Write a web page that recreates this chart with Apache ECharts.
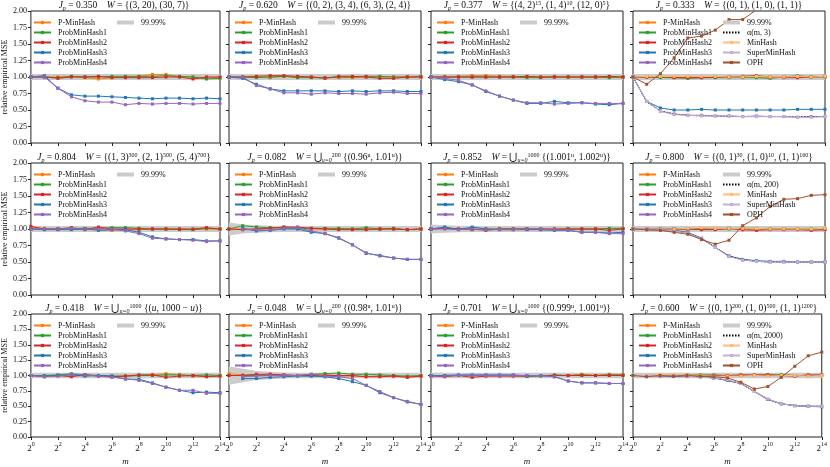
<!DOCTYPE html>
<html lang="en">
<head>
    <meta charset="UTF-8">
    <title>relative empirical MSE</title>
    <script src="https://cdn.jsdelivr.net/npm/echarts@6/dist/echarts.min.js"></script>
    <style>html, body { margin: 0; padding: 0; background: #fff; }</style>
</head>
<body>

<div id="wrap" style="width: 830px; height: 467px;"></div>

<script>
    // x positions are log2(m): m = 2^0 ... 2^14
    var logM = ['0', '1', '2', '3', '4', '5', '6', '7', '8', '9', '10', '11', '12', '13', '14'];

    var jp = ['0.350', '0.620', '0.377', '0.333', '0.804', '0.082', '0.852', '0.800', '0.418', '0.048', '0.701', '0.600'];
    var wSets = [
        '{(3, 20), (30, 7)}',
        '{(0, 2), (3, 4), (6, 3), (2, 4)}',
        '{(4, 2){sup|15}, (1, 4){sup|10}, (12, 0){sup|5}}',
        '{(0, 1), (1, 0), (1, 1)}',
        '{(1, 3){sup|300}, (2, 1){sup|500}, (5, 4){sup|700}}',
        '\u22C3{sub|u=0}{sup|200} {(0.96{sup|u}, 1.01{sup|u})}',
        '\u22C3{sub|u=0}{sup|1000} {(1.001{sup|u}, 1.002{sup|u})}',
        '{(0, 1){sup|30}, (1, 0){sup|10}, (1, 1){sup|160}}',
        '\u22C3{sub|u=0}{sup|1000} {({i|u}, 1000 \u2212 {i|u})}',
        '\u22C3{sub|u=0}{sup|200} {(0.98{sup|u}, 1.01{sup|u})}',
        '\u22C3{sub|u=0}{sup|1000} {(0.999{sup|u}, 1.001{sup|u})}',
        '{(0, 1){sup|200}, (1, 0){sup|500}, (1, 1){sup|1200}}'
    ];

    var pMinHash = [
        [1.00,1.00,1.00,1.01,0.99,0.97,0.99,1.00,1.01,1.04,1.04,1.00,1.00,0.99,0.99],
        [1.00,1.00,1.00,0.99,1.01,1.00,1.00,0.99,0.99,0.99,1.00,1.00,1.00,1.00,1.00],
        [1.00,1.00,1.01,1.02,1.02,1.01,1.01,1.00,1.00,1.01,1.00,1.00,1.00,0.99,1.00],
        [1.00,1.00,1.00,1.00,1.00,1.00,1.01,1.00,1.00,1.00,0.99,1.00,1.00,1.00,1.00],
        [1.03,1.00,1.00,1.01,1.00,0.99,0.98,0.99,0.99,1.00,1.00,1.00,0.99,1.00,1.00],
        [1.00,1.00,1.00,1.01,1.03,1.01,1.00,1.00,1.00,1.00,1.00,1.00,1.00,0.99,1.00],
        [1.00,1.01,1.00,0.99,1.00,1.00,1.00,1.00,1.00,1.00,1.00,1.00,1.00,1.00,1.01],
        [1.00,1.00,1.00,1.00,1.00,1.01,1.01,1.01,1.00,1.00,1.00,1.00,1.00,1.00,1.01],
        [1.00,1.00,1.00,1.01,1.01,1.00,0.99,0.99,1.00,1.01,1.03,1.01,0.99,0.99,0.99],
        [1.03,1.01,1.01,1.02,1.01,1.00,1.01,1.02,0.99,0.99,0.98,0.99,0.99,0.98,0.99],
        [1.00,1.00,1.00,1.00,1.00,1.00,1.00,1.00,1.00,1.00,1.00,1.02,1.00,1.02,1.01],
        [1.00,1.00,1.01,1.00,1.01,1.00,1.00,1.00,1.00,1.00,1.00,1.01,1.00,1.00,1.00]
    ];
    var probMinHash1 = [
        [1.00,1.00,0.99,1.01,1.00,1.00,1.01,1.01,1.01,1.01,1.02,1.01,1.00,0.97,0.98],
        [1.00,1.00,0.99,1.00,1.01,0.99,0.99,0.99,1.00,1.00,1.01,1.01,1.00,1.00,1.01],
        [1.00,1.00,1.00,1.00,1.00,1.00,1.00,0.99,0.99,1.00,1.00,1.00,1.00,0.99,1.00],
        [1.00,1.00,0.99,0.99,0.98,0.99,0.99,0.99,0.99,0.99,0.98,1.00,1.02,1.00,1.00],
        [1.00,1.00,1.00,1.01,1.01,1.01,1.02,1.02,1.01,1.00,1.00,0.99,0.99,1.01,1.00],
        [1.00,1.05,1.03,1.02,1.02,1.01,1.01,1.01,1.01,1.00,1.02,1.00,1.01,0.99,1.00],
        [1.00,1.02,1.00,0.99,1.00,1.00,1.00,1.00,0.99,0.99,1.00,1.00,1.00,1.01,1.01],
        [1.00,1.00,1.00,1.00,1.00,1.00,1.00,1.00,1.01,1.01,1.00,1.00,1.00,1.00,1.00],
        [1.00,1.00,1.01,1.03,1.01,1.00,0.99,0.99,1.00,1.00,1.01,1.01,1.00,1.01,1.00],
        [1.00,1.00,1.00,1.00,1.00,1.00,1.02,1.03,1.04,1.02,1.02,1.01,1.00,0.99,1.00],
        [1.00,1.00,1.00,1.00,1.00,1.00,1.00,0.99,0.99,1.01,1.00,1.01,1.00,1.01,1.01],
        [1.00,1.00,1.00,1.00,1.00,1.01,1.01,1.00,1.00,1.00,1.01,1.01,1.00,1.00,1.00]
    ];
    var probMinHash2 = [
        [1.00,1.00,0.98,1.00,1.00,1.01,0.99,0.99,0.99,0.99,1.00,1.00,0.97,1.00,1.00],
        [1.00,1.00,1.01,1.02,1.02,1.01,1.00,0.98,1.01,1.01,1.00,0.98,0.98,1.00,1.00],
        [1.00,1.00,1.00,1.00,1.00,1.00,1.00,1.01,1.00,1.00,1.00,1.00,1.00,1.01,1.00],
        [1.00,1.00,1.01,0.99,0.99,0.99,1.00,1.00,1.01,1.02,1.00,0.99,0.99,1.00,1.01],
        [1.04,1.00,1.00,1.02,0.99,1.03,1.00,1.00,1.00,1.00,1.00,1.00,1.00,1.02,1.00],
        [1.00,0.99,1.00,1.01,1.03,1.03,1.01,1.00,0.99,0.99,0.99,1.00,1.00,0.99,1.00],
        [1.00,1.01,1.00,1.00,0.98,1.00,1.00,1.00,1.00,1.00,1.00,1.00,1.00,0.98,1.00],
        [1.00,1.00,1.00,1.00,1.00,0.99,0.99,1.01,0.99,0.98,0.99,0.99,0.99,0.98,0.99],
        [1.00,0.98,1.00,0.98,1.01,0.99,0.98,0.99,1.01,1.01,0.97,0.99,1.00,0.98,0.99],
        [1.00,1.00,1.02,1.02,1.01,1.00,1.00,1.00,1.00,1.00,0.98,0.98,0.99,0.97,0.99],
        [0.99,0.98,1.00,0.97,0.99,0.99,0.99,0.99,1.00,1.00,1.00,1.00,1.00,1.00,1.00],
        [1.00,1.00,1.00,1.00,1.00,1.00,1.00,1.00,1.01,1.01,1.01,1.00,0.99,1.01,1.01]
    ];
    var probMinHash3 = [
        [1.00,1.02,0.83,0.73,0.71,0.71,0.70,0.69,0.68,0.67,0.68,0.68,0.67,0.68,0.67],
        [1.00,0.98,0.89,0.82,0.79,0.79,0.79,0.79,0.78,0.79,0.78,0.79,0.79,0.78,0.78],
        [1.00,0.96,0.93,0.88,0.78,0.71,0.65,0.60,0.60,0.63,0.61,0.61,0.59,0.58,0.60],
        [1.00,0.63,0.53,0.50,0.50,0.51,0.50,0.50,0.50,0.50,0.50,0.50,0.51,0.51,0.51],
        [1.00,0.99,0.99,0.99,1.00,0.98,0.99,0.99,0.95,0.88,0.85,0.84,0.84,0.82,0.82],
        [null,1.01,0.97,0.98,1.00,1.00,0.95,0.93,0.86,0.76,0.63,0.60,0.56,0.54,0.54],
        [1.00,1.03,0.99,1.03,1.00,0.99,0.99,0.99,0.99,0.98,0.98,0.95,0.95,0.94,0.95],
        [1.00,1.00,1.00,0.98,0.95,0.86,0.72,0.59,0.54,0.52,0.51,0.51,0.50,0.50,0.50],
        [1.00,0.99,1.00,1.01,0.99,1.00,0.99,0.94,0.94,0.88,0.81,0.76,0.72,0.73,0.72],
        [null,0.95,0.95,0.97,0.98,0.99,0.99,0.98,0.95,0.90,0.84,0.72,0.64,0.57,0.53],
        [1.00,1.00,1.01,1.01,1.01,1.01,1.01,0.99,1.00,0.98,0.91,0.88,0.88,0.87,0.87],
        [1.00,1.00,1.00,0.99,0.99,0.98,0.96,0.92,0.87,0.74,0.61,0.54,0.51,0.50,0.49]
    ];
    var probMinHash4 = [
        [1.00,1.00,0.83,0.70,0.64,0.62,0.62,0.58,0.60,0.59,0.60,0.60,0.59,0.60,0.60],
        [1.00,1.00,0.87,0.82,0.76,0.76,0.74,0.76,0.75,0.75,0.74,0.76,0.77,0.75,0.75],
        [1.00,0.98,0.95,0.88,0.79,0.71,0.65,0.61,0.61,0.59,0.60,0.61,0.60,0.60,0.60],
        [1.00,0.63,0.48,0.44,0.42,0.42,0.41,0.41,0.40,0.41,0.40,0.40,0.39,0.40,0.40],
        [1.00,1.00,1.00,1.01,1.00,1.00,1.00,0.97,0.93,0.86,0.85,0.84,0.83,0.81,0.82],
        [null,0.99,0.99,0.98,1.01,1.02,0.97,0.93,0.87,0.76,0.64,0.59,0.56,0.54,0.54],
        [1.00,1.00,0.99,1.00,0.99,0.99,0.99,1.00,1.00,0.99,0.98,0.95,0.95,0.93,0.93],
        [1.00,0.99,0.98,0.97,0.94,0.85,0.72,0.59,0.53,0.51,0.50,0.50,0.50,0.50,0.50],
        [1.00,0.98,0.99,1.02,1.01,0.99,0.97,0.95,0.92,0.87,0.81,0.76,0.76,0.71,0.71],
        [null,0.98,0.99,1.00,1.00,1.00,1.02,0.99,0.98,0.95,0.84,0.74,0.64,0.58,0.53],
        [0.99,0.99,1.00,1.00,1.00,1.00,1.00,1.00,1.00,0.98,0.91,0.88,0.88,0.87,0.87],
        [1.00,1.00,0.99,0.99,0.99,0.98,0.96,0.92,0.87,0.74,0.61,0.54,0.51,0.50,0.50]
    ];
    // extra methods, only in the right-hand column (panels 4, 8, 12)
    var minHash = {
        3:  [1.00,1.01,1.01,1.01,1.01,1.01,1.01,1.00,1.00,1.01,1.00,1.00,1.01,1.00,1.01],
        7:  [1.00,1.00,1.00,1.00,1.01,1.02,1.01,1.01,1.01,1.01,1.00,1.00,1.00,1.00,1.01],
        11: [1.00,1.00,1.02,1.02,1.00,1.00,0.99,0.99,0.99,1.00,0.99,1.00,1.00,0.99,1.00]
    };
    var superMinHash = {
        3:  [1.00,0.63,0.48,0.43,0.42,0.41,0.41,0.41,0.40,0.40,0.40,0.40,0.39,0.39,0.40],
        7:  [1.00,1.00,0.99,0.97,0.94,0.85,0.72,0.58,0.53,0.51,0.50,0.50,0.50,0.50,0.50],
        11: [1.00,1.00,1.00,1.00,0.99,0.97,0.96,0.93,0.87,0.74,0.62,0.54,0.51,0.50,0.50]
    };
    var oph = {
        3:  [1.00,0.89,1.05,1.29,1.59,1.62,1.71,1.87,1.87,2.02,2.30,2.55,2.80,3.05,3.30],
        7:  [1.00,0.99,0.98,0.95,0.92,0.84,0.77,0.83,1.05,1.17,1.34,1.45,1.46,1.51,1.52],
        11: [1.00,0.98,1.00,0.99,1.00,0.99,0.98,0.96,0.89,0.78,0.82,0.97,1.15,1.32,1.38]
    };
    var alpha = {
        3:  [1.00,0.62,0.49,0.44,0.42,0.41,0.41,0.40,0.40,0.40,0.40,0.40,0.40,0.40,0.40],
        7:  [1.00,0.99,0.99,0.97,0.94,0.86,0.72,0.59,0.54,0.51,0.50,0.50,0.50,0.50,0.50],
        11: [1.00,1.00,1.00,0.99,0.99,0.98,0.96,0.92,0.87,0.74,0.62,0.54,0.51,0.50,0.50]
    };
    var alphaNames = { 3: '\u03B1(m, 3)', 7: '\u03B1(m, 200)', 11: '\u03B1(m, 2000)' };

    // half width of the grey 99.99% band around 1
    var bandHalf = [
        [0.045,0.045,0.045,0.045,0.045,0.045,0.045,0.045,0.045,0.045,0.045,0.045,0.045,0.045,0.045],
        [0.045,0.045,0.045,0.045,0.045,0.045,0.045,0.045,0.045,0.045,0.045,0.045,0.045,0.045,0.045],
        [0.045,0.045,0.045,0.045,0.045,0.045,0.045,0.045,0.045,0.045,0.045,0.045,0.045,0.045,0.045],
        [0.045,0.045,0.045,0.045,0.045,0.045,0.045,0.045,0.045,0.045,0.045,0.045,0.045,0.045,0.045],
        [0.045,0.045,0.045,0.045,0.045,0.045,0.045,0.045,0.045,0.045,0.045,0.045,0.045,0.045,0.045],
        [0.100,0.070,0.055,0.050,0.045,0.045,0.045,0.045,0.045,0.045,0.045,0.045,0.045,0.045,0.045],
        [0.070,0.055,0.050,0.045,0.045,0.045,0.045,0.045,0.045,0.045,0.045,0.045,0.045,0.045,0.045],
        [0.045,0.045,0.045,0.045,0.045,0.045,0.045,0.045,0.045,0.045,0.045,0.045,0.045,0.045,0.045],
        [0.045,0.045,0.045,0.045,0.045,0.045,0.045,0.045,0.045,0.045,0.045,0.045,0.045,0.045,0.045],
        [0.150,0.110,0.075,0.060,0.050,0.045,0.045,0.045,0.045,0.045,0.045,0.045,0.045,0.045,0.045],
        [0.050,0.045,0.045,0.045,0.045,0.045,0.045,0.045,0.045,0.045,0.045,0.045,0.045,0.045,0.045],
        [0.045,0.045,0.045,0.045,0.045,0.045,0.045,0.045,0.045,0.045,0.045,0.045,0.045,0.045,0.045]
    ];

    var FONT = '"Liberation Serif", "DejaVu Serif", serif';
    var colLeft = [28, 229, 431, 633];
    var rowTop = [11, 163, 314];
    var GW = 192, GH = 132;

    var grids = [], xAxes = [], yAxes = [], series = [], legends = [], titles = [];

    function lineSeries(k, name, data, color, extra) {
        var s = {
            name: name, type: 'line', xAxisIndex: k, yAxisIndex: k,
            data: data, symbol: 'rect', symbolSize: 3,
            lineStyle: {width: 1, color: color},
            itemStyle: {color: color},
            connectNulls: false
        };
        for (var key in extra) s[key] = extra[key];
        return s;
    }

    for (var k = 0; k < 12; k++) {
        var r = Math.floor(k / 4), c = k % 4;
        var gl = colLeft[c], gt = rowTop[r];

        grids.push({left: gl, top: gt, width: GW, height: GH, show: true,
            borderColor: '#222', borderWidth: 1, backgroundColor: 'rgba(0,0,0,0)'});

        titles.push({
            text: '{i|J}{sub|p} = ' + jp[k] + '    {i|W} = ' + wSets[k],
            left: gl + GW / 2, top: gt - 11, textAlign: 'center', padding: 0,
            textStyle: {
                fontFamily: FONT, fontSize: 9.5, fontWeight: 'normal', color: '#111', lineHeight: 11,
                rich: {
                    i: {fontStyle: 'italic', fontFamily: FONT, fontSize: 9.5, lineHeight: 11},
                    sub: {fontSize: 6, fontFamily: FONT, fontStyle: 'italic', lineHeight: 11, verticalAlign: 'bottom'},
                    sup: {fontSize: 6, fontFamily: FONT, lineHeight: 11, verticalAlign: 'top'}
                }
            }
        });

        xAxes.push({
            gridIndex: k, type: 'category', data: logM, boundaryGap: false,
            axisLine: {show: false},
            axisTick: {show: true, interval: 1, length: 3, lineStyle: {color: '#222'}},
            axisLabel: {
                show: r === 2, interval: 1, margin: 4,
                formatter: function (v) { return '{b|2}{s|' + v + '}'; },
                rich: {
                    b: {fontFamily: FONT, fontSize: 9, color: '#111', lineHeight: 12, verticalAlign: 'bottom'},
                    s: {fontFamily: FONT, fontSize: 6, color: '#111', lineHeight: 12, verticalAlign: 'top'}
                }
            },
            splitLine: {show: false},
            name: r === 2 ? 'm' : '', nameLocation: 'middle', nameGap: 20,
            nameTextStyle: {fontFamily: FONT, fontStyle: 'italic', fontSize: 9, color: '#111'}
        });

        yAxes.push({
            gridIndex: k, type: 'value', min: 0, max: 2, interval: 0.25,
            axisLine: {show: false},
            axisTick: {show: true, length: 3, lineStyle: {color: '#222'}},
            axisLabel: {
                show: c === 0, margin: 4, fontFamily: FONT, fontSize: 8, color: '#111',
                formatter: function (v) { return v.toFixed(2); }
            },
            splitLine: {show: false},
            name: c === 0 ? 'relative empirical MSE' : '', nameLocation: 'middle', nameGap: 21,
            nameTextStyle: {fontFamily: FONT, fontSize: 8, color: '#111'}
        });

        // 99.99% band: invisible lower edge + stacked grey width
        var lo = [], hi = [];
        for (var i = 0; i < logM.length; i++) {
            lo.push(1 - bandHalf[k][i]);
            hi.push(2 * bandHalf[k][i]);
        }
        series.push({name: 'band-low', type: 'line', xAxisIndex: k, yAxisIndex: k, stack: 'band' + k,
            data: lo, symbol: 'none', lineStyle: {opacity: 0}, silent: true, z: 1});
        series.push({name: '99.99%', type: 'line', xAxisIndex: k, yAxisIndex: k, stack: 'band' + k,
            data: hi, symbol: 'none', lineStyle: {opacity: 0}, itemStyle: {color: '#cbcbcb'},
            areaStyle: {color: '#cbcbcb', opacity: 1}, silent: true, z: 1});

        series.push(lineSeries(k, 'P-MinHash', pMinHash[k], '#ff7f0e'));
        series.push(lineSeries(k, 'ProbMinHash1', probMinHash1[k], '#2ca02c'));
        series.push(lineSeries(k, 'ProbMinHash2', probMinHash2[k], '#d62728'));
        series.push(lineSeries(k, 'ProbMinHash3', probMinHash3[k], '#1f77b4'));
        series.push(lineSeries(k, 'ProbMinHash4', probMinHash4[k], '#9467bd'));

        var second = [{name: '99.99%', icon: 'rect', itemStyle: {color: '#cbcbcb'}}];
        if (alpha[k]) {
            series.push(lineSeries(k, alphaNames[k], alpha[k], '#000', {
                symbol: 'none', lineStyle: {width: 0.8, color: '#000', type: [1.5, 1.5]}, z: 3}));
            series.push(lineSeries(k, 'MinHash', minHash[k], '#ffbb78'));
            series.push(lineSeries(k, 'SuperMinHash', superMinHash[k], '#c5b0d5'));
            series.push(lineSeries(k, 'OPH', oph[k], '#a0522d'));
            second.push({name: alphaNames[k], itemStyle: {opacity: 0}},
                'MinHash', 'SuperMinHash', 'OPH');
        }

        var legendBase = {
            orient: 'vertical', top: gt + 7, itemGap: 1, itemWidth: 17, itemHeight: 4, padding: 0,
            selectedMode: false,
            textStyle: {fontFamily: FONT, fontSize: 8, lineHeight: 9, color: '#111', padding: [0, 0, 0, 2]}
        };
        legends.push(Object.assign({}, legendBase, {left: gl + 5,
            data: ['P-MinHash', 'ProbMinHash1', 'ProbMinHash2', 'ProbMinHash3', 'ProbMinHash4']}));
        legends.push(Object.assign({}, legendBase, {left: gl + 89, data: second}));
    }

    var myChart = echarts.init(document.getElementById('wrap'));
    myChart.setOption({
        animation: false,
        backgroundColor: '#fff',
        title: titles,
        grid: grids,
        xAxis: xAxes,
        yAxis: yAxes,
        legend: legends,
        series: series
    });
</script>
</body>
</html>
